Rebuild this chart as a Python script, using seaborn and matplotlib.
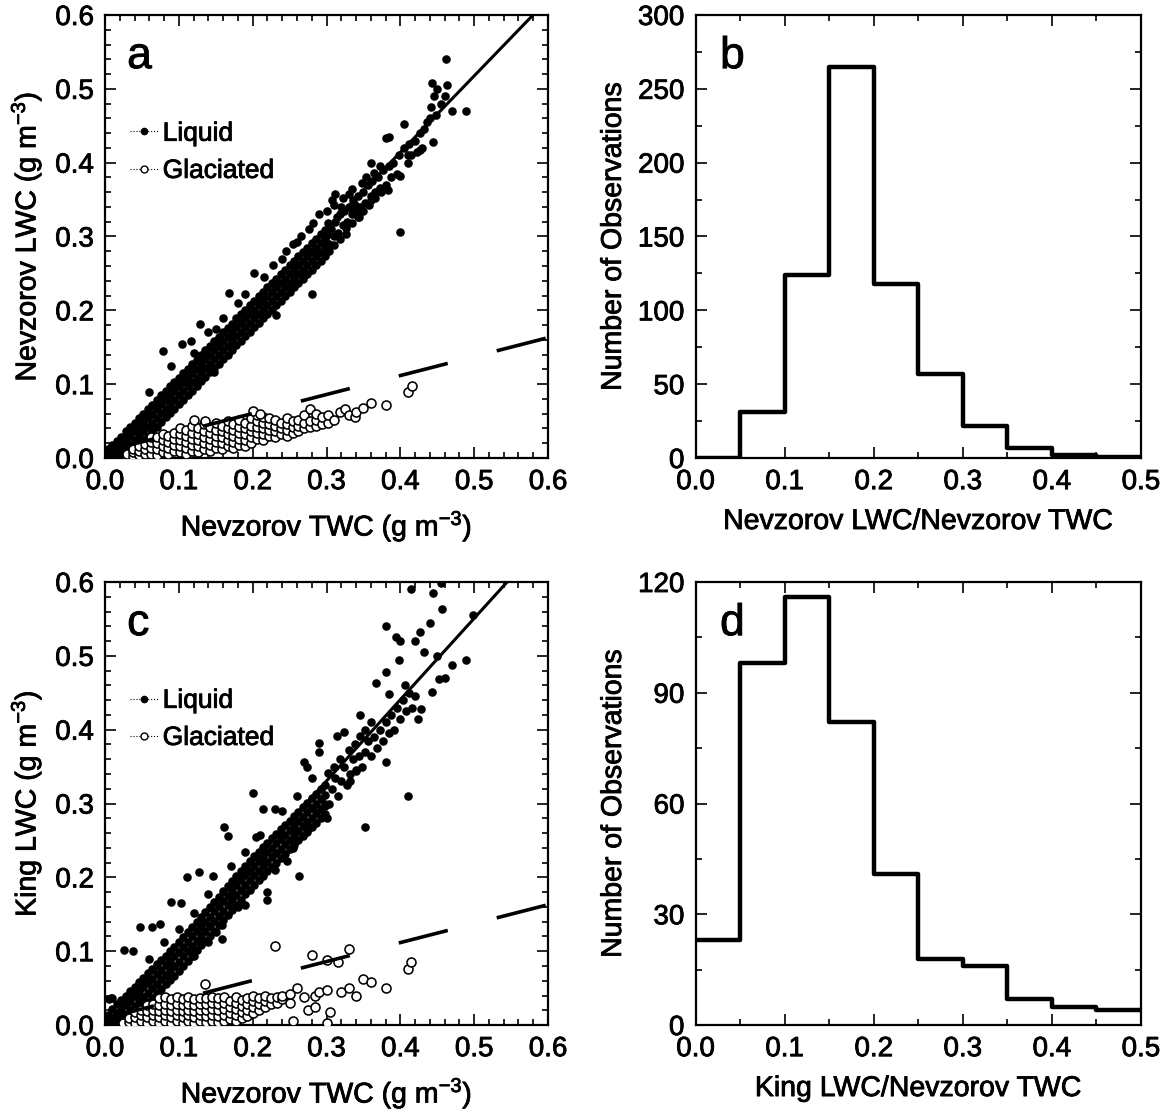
import matplotlib
matplotlib.use("Agg")
import matplotlib.pyplot as plt
import matplotlib.patheffects as pe
from matplotlib.text import Text
from matplotlib.lines import Line2D
from matplotlib.ticker import MultipleLocator
import seaborn as sns
import pandas as pd

# ---- data ----
# dense liquid band: TWC positions and four LWC rows across the band
band_twc = [0.004, 0.010, 0.016, 0.022, 0.028, 0.034, 0.040, 0.046, 0.052, 0.058,
            0.064, 0.070, 0.076, 0.082, 0.088, 0.094, 0.100, 0.106, 0.112, 0.118,
            0.124, 0.130, 0.136, 0.142, 0.148, 0.154, 0.160, 0.166, 0.172, 0.178,
            0.184, 0.190, 0.196, 0.202, 0.208, 0.214, 0.220, 0.226, 0.232, 0.238,
            0.244, 0.250, 0.256, 0.262, 0.268, 0.274, 0.280, 0.286, 0.292, 0.298]

# panel a (Nevzorov LWC)
band_a_low = [0.000, 0.000, 0.002, 0.004, 0.006, 0.008, 0.012, 0.018, 0.024, 0.030,
              0.036, 0.042, 0.049, 0.055, 0.061, 0.067, 0.073, 0.079, 0.085, 0.091,
              0.097, 0.104, 0.110, 0.116, 0.122, 0.128, 0.134, 0.140, 0.146, 0.153,
              0.159, 0.165, 0.171, 0.177, 0.183, 0.189, 0.195, 0.201, 0.207, 0.213,
              0.219, 0.225, 0.231, 0.237, 0.243, 0.249, 0.255, 0.261, 0.267, 0.273]
band_a_mid1 = [0.003, 0.004, 0.006, 0.008, 0.012, 0.018, 0.024, 0.030, 0.036, 0.042,
               0.048, 0.054, 0.061, 0.067, 0.073, 0.079, 0.085, 0.091, 0.097, 0.103,
               0.109, 0.116, 0.122, 0.128, 0.134, 0.140, 0.146, 0.152, 0.158, 0.165,
               0.171, 0.177, 0.183, 0.189, 0.195, 0.201, 0.207, 0.213, 0.219, 0.225,
               0.231, 0.237, 0.243, 0.249, 0.255, 0.261, 0.267, 0.273, 0.279, 0.285]
band_a_mid2 = [0.006, 0.008, 0.011, 0.017, 0.024, 0.030, 0.036, 0.042, 0.048, 0.054,
               0.060, 0.066, 0.073, 0.079, 0.085, 0.091, 0.097, 0.103, 0.109, 0.115,
               0.121, 0.128, 0.134, 0.140, 0.146, 0.152, 0.158, 0.164, 0.170, 0.177,
               0.183, 0.189, 0.195, 0.201, 0.207, 0.213, 0.219, 0.225, 0.231, 0.237,
               0.243, 0.249, 0.255, 0.261, 0.267, 0.273, 0.279, 0.285, 0.291, 0.297]
band_a_high = [0.012, 0.017, 0.023, 0.029, 0.036, 0.042, 0.048, 0.054, 0.060, 0.066,
               0.072, 0.078, 0.085, 0.091, 0.097, 0.103, 0.109, 0.115, 0.121, 0.127,
               0.133, 0.140, 0.146, 0.152, 0.158, 0.164, 0.170, 0.176, 0.182, 0.189,
               0.195, 0.201, 0.207, 0.213, 0.219, 0.225, 0.231, 0.237, 0.243, 0.249,
               0.255, 0.261, 0.267, 0.273, 0.279, 0.285, 0.291, 0.297, 0.303, 0.309]

# panel a: remaining liquid points (upper part and outliers) as (TWC, LWC)
liquid_a = [
    (0.304, 0.290), (0.306, 0.310), (0.310, 0.300), (0.312, 0.320), (0.316, 0.305), (0.318, 0.330),
    (0.322, 0.315), (0.324, 0.335), (0.328, 0.320), (0.330, 0.340), (0.334, 0.330), (0.336, 0.350),
    (0.340, 0.335), (0.342, 0.355), (0.346, 0.340), (0.350, 0.360), (0.352, 0.345), (0.356, 0.370),
    (0.360, 0.355), (0.362, 0.375), (0.366, 0.360), (0.370, 0.380), (0.372, 0.365), (0.376, 0.390),
    (0.380, 0.370), (0.384, 0.395), (0.388, 0.380), (0.390, 0.400), (0.395, 0.385), (0.398, 0.410),
    (0.405, 0.420), (0.410, 0.400), (0.412, 0.425), (0.415, 0.410), (0.420, 0.430), (0.422, 0.415),
    (0.426, 0.440), (0.430, 0.420), (0.432, 0.445), (0.436, 0.455), (0.440, 0.460), (0.442, 0.475),
    (0.445, 0.490), (0.448, 0.465), (0.450, 0.500), (0.455, 0.480), (0.460, 0.490), (0.463, 0.505),
    (0.462, 0.541), (0.443, 0.508), (0.470, 0.470), (0.489, 0.470), (0.444, 0.428), (0.427, 0.417),
    (0.399, 0.306), (0.280, 0.222), (0.231, 0.194), (0.079, 0.145), (0.104, 0.154), (0.117, 0.159),
    (0.129, 0.181), (0.168, 0.223), (0.202, 0.251), (0.147, 0.116), (0.307, 0.350), (0.312, 0.358),
    (0.335, 0.364), (0.320, 0.340), (0.360, 0.400), (0.380, 0.433), (0.385, 0.435), (0.405, 0.452),
    (0.360, 0.350), (0.383, 0.363), (0.400, 0.382), (0.410, 0.410), (0.265, 0.300), (0.255, 0.290),
    (0.240, 0.270), (0.290, 0.330), (0.300, 0.335), (0.215, 0.245), (0.180, 0.210), (0.160, 0.190),
    (0.302, 0.318), (0.314, 0.326), (0.326, 0.312), (0.338, 0.342), (0.344, 0.326), (0.300, 0.302),
    (0.060, 0.090), (0.090, 0.125), (0.140, 0.170), (0.190, 0.222), (0.250, 0.232), (0.270, 0.250),
    (0.304, 0.280), (0.310, 0.288), (0.318, 0.296), (0.326, 0.304), (0.334, 0.318), (0.342, 0.326),
    (0.350, 0.334), (0.358, 0.342), (0.366, 0.352), (0.374, 0.360), (0.348, 0.372), (0.354, 0.380),
    (0.364, 0.386), (0.372, 0.396), (0.310, 0.342), (0.322, 0.352), (0.330, 0.358), (0.276, 0.310),
    (0.282, 0.318), (0.260, 0.292), (0.228, 0.262), (0.245, 0.280), (0.120, 0.142), (0.150, 0.175),
]

glaciated_a = [
    (0.030, 0.002), (0.030, 0.006), (0.038, 0.003), (0.038, 0.008), (0.038, 0.012),
    (0.046, 0.004), (0.046, 0.010), (0.046, 0.016), (0.054, 0.005), (0.054, 0.012), (0.054, 0.019),
    (0.062, 0.006), (0.062, 0.014), (0.062, 0.022), (0.062, 0.028), (0.070, 0.004), (0.070, 0.012),
    (0.070, 0.020), (0.070, 0.028), (0.078, 0.008), (0.078, 0.016), (0.078, 0.024), (0.078, 0.032),
    (0.086, 0.006), (0.086, 0.014), (0.086, 0.022), (0.086, 0.030), (0.094, 0.010), (0.094, 0.018),
    (0.094, 0.026), (0.094, 0.034), (0.102, 0.008), (0.102, 0.016), (0.102, 0.024), (0.102, 0.032),
    (0.102, 0.040), (0.110, 0.006), (0.110, 0.014), (0.110, 0.022), (0.110, 0.030), (0.110, 0.038),
    (0.118, 0.010), (0.118, 0.018), (0.118, 0.026), (0.118, 0.034), (0.118, 0.044), (0.126, 0.008),
    (0.126, 0.016), (0.126, 0.024), (0.126, 0.032), (0.126, 0.040), (0.134, 0.012), (0.134, 0.020),
    (0.134, 0.028), (0.134, 0.036), (0.134, 0.046), (0.142, 0.010), (0.142, 0.018), (0.142, 0.026),
    (0.142, 0.034), (0.142, 0.042), (0.150, 0.014), (0.150, 0.022), (0.150, 0.030), (0.150, 0.038),
    (0.150, 0.048), (0.158, 0.012), (0.158, 0.020), (0.158, 0.028), (0.158, 0.036), (0.158, 0.044),
    (0.166, 0.016), (0.166, 0.024), (0.166, 0.032), (0.166, 0.040), (0.166, 0.050), (0.174, 0.014),
    (0.174, 0.022), (0.174, 0.030), (0.174, 0.038), (0.174, 0.046), (0.182, 0.018), (0.182, 0.026),
    (0.182, 0.034), (0.182, 0.042), (0.182, 0.052), (0.190, 0.016), (0.190, 0.024), (0.190, 0.032),
    (0.190, 0.040), (0.190, 0.048), (0.198, 0.020), (0.198, 0.028), (0.198, 0.036), (0.198, 0.044),
    (0.198, 0.054), (0.206, 0.026), (0.206, 0.034), (0.206, 0.042), (0.206, 0.050), (0.206, 0.058),
    (0.214, 0.024), (0.214, 0.032), (0.214, 0.040), (0.214, 0.048), (0.214, 0.056), (0.222, 0.030),
    (0.222, 0.038), (0.222, 0.046), (0.222, 0.054), (0.230, 0.028), (0.230, 0.036), (0.230, 0.044),
    (0.230, 0.052), (0.238, 0.032), (0.238, 0.040), (0.238, 0.048), (0.246, 0.030), (0.246, 0.038),
    (0.246, 0.046), (0.246, 0.054), (0.254, 0.034), (0.254, 0.042), (0.254, 0.050), (0.262, 0.036),
    (0.262, 0.044), (0.262, 0.052), (0.270, 0.040), (0.270, 0.048), (0.270, 0.058), (0.278, 0.042),
    (0.278, 0.050), (0.278, 0.066), (0.286, 0.044), (0.286, 0.052), (0.286, 0.060), (0.294, 0.046),
    (0.294, 0.056), (0.302, 0.048), (0.302, 0.058), (0.310, 0.052), (0.318, 0.062), (0.325, 0.066),
    (0.330, 0.058), (0.338, 0.055), (0.340, 0.062), (0.350, 0.068), (0.360, 0.074), (0.380, 0.072),
    (0.410, 0.089), (0.416, 0.097), (0.120, 0.052), (0.135, 0.050), (0.200, 0.064), (0.210, 0.060),
]

# panel c (King LWC)
band_c_low = [0.000, 0.000, 0.002, 0.004, 0.006, 0.008, 0.013, 0.019, 0.025, 0.031,
              0.037, 0.043, 0.049, 0.055, 0.061, 0.067, 0.073, 0.080, 0.087, 0.094,
              0.101, 0.108, 0.114, 0.121, 0.128, 0.135, 0.142, 0.149, 0.156, 0.163,
              0.170, 0.177, 0.183, 0.190, 0.196, 0.202, 0.208, 0.214, 0.220, 0.226,
              0.232, 0.238, 0.244, 0.250, 0.256, 0.262, 0.268, 0.274, 0.280, 0.286]
band_c_mid1 = [0.002, 0.004, 0.006, 0.010, 0.014, 0.020, 0.026, 0.032, 0.038, 0.044,
               0.050, 0.056, 0.062, 0.068, 0.074, 0.080, 0.086, 0.093, 0.100, 0.107,
               0.114, 0.121, 0.127, 0.134, 0.141, 0.148, 0.155, 0.162, 0.169, 0.176,
               0.183, 0.190, 0.196, 0.203, 0.209, 0.215, 0.221, 0.227, 0.233, 0.239,
               0.245, 0.251, 0.257, 0.263, 0.269, 0.275, 0.281, 0.287, 0.293, 0.299]
band_c_mid2 = [0.005, 0.009, 0.015, 0.021, 0.027, 0.033, 0.039, 0.045, 0.051, 0.057,
               0.063, 0.069, 0.075, 0.081, 0.087, 0.093, 0.099, 0.106, 0.113, 0.120,
               0.127, 0.134, 0.140, 0.147, 0.154, 0.161, 0.168, 0.175, 0.182, 0.189,
               0.196, 0.203, 0.209, 0.216, 0.222, 0.228, 0.234, 0.240, 0.246, 0.252,
               0.258, 0.264, 0.270, 0.276, 0.282, 0.288, 0.294, 0.300, 0.306, 0.312]
band_c_high = [0.014, 0.022, 0.028, 0.034, 0.040, 0.046, 0.052, 0.058, 0.064, 0.070,
               0.076, 0.082, 0.088, 0.094, 0.100, 0.106, 0.112, 0.119, 0.126, 0.133,
               0.140, 0.147, 0.153, 0.160, 0.167, 0.174, 0.181, 0.188, 0.195, 0.202,
               0.209, 0.216, 0.222, 0.229, 0.235, 0.241, 0.247, 0.253, 0.259, 0.265,
               0.271, 0.277, 0.283, 0.289, 0.295, 0.301, 0.307, 0.313, 0.319, 0.325]

liquid_c = [
    (0.006, 0.035), (0.010, 0.036), (0.304, 0.300), (0.308, 0.320), (0.312, 0.335), (0.316, 0.310),
    (0.320, 0.330), (0.324, 0.350), (0.328, 0.325), (0.332, 0.340), (0.336, 0.360), (0.340, 0.345),
    (0.344, 0.365), (0.348, 0.350), (0.352, 0.370), (0.356, 0.385), (0.360, 0.365), (0.364, 0.390),
    (0.368, 0.375), (0.372, 0.400), (0.376, 0.385), (0.380, 0.410), (0.384, 0.395), (0.388, 0.420),
    (0.392, 0.400), (0.396, 0.430), (0.400, 0.415), (0.404, 0.440), (0.408, 0.425), (0.412, 0.450),
    (0.416, 0.430), (0.420, 0.445), (0.424, 0.415), (0.414, 0.591), (0.444, 0.585), (0.455, 0.598),
    (0.456, 0.563), (0.498, 0.555), (0.380, 0.540), (0.394, 0.526), (0.427, 0.532), (0.440, 0.545),
    (0.489, 0.495), (0.470, 0.487), (0.452, 0.468), (0.443, 0.451), (0.428, 0.428), (0.410, 0.310),
    (0.352, 0.268), (0.263, 0.202), (0.201, 0.314), (0.161, 0.268), (0.167, 0.256), (0.204, 0.254),
    (0.219, 0.180), (0.219, 0.169), (0.189, 0.163), (0.047, 0.133), (0.064, 0.133), (0.075, 0.137),
    (0.090, 0.167), (0.103, 0.165), (0.111, 0.200), (0.128, 0.207), (0.146, 0.202), (0.026, 0.102),
    (0.038, 0.100), (0.008, 0.036), (0.086, 0.067), (0.118, 0.100), (0.158, 0.116), (0.150, 0.126),
    (0.158, 0.135), (0.290, 0.382), (0.290, 0.370), (0.314, 0.392), (0.324, 0.397), (0.270, 0.356),
    (0.274, 0.350), (0.367, 0.463), (0.380, 0.478), (0.384, 0.449), (0.380, 0.356), (0.360, 0.410),
    (0.345, 0.420), (0.340, 0.344), (0.332, 0.330), (0.298, 0.297), (0.300, 0.280), (0.274, 0.264),
    (0.254, 0.240), (0.239, 0.256), (0.214, 0.293), (0.230, 0.293), (0.400, 0.520), (0.420, 0.520),
    (0.432, 0.505), (0.450, 0.500), (0.460, 0.470), (0.406, 0.460), (0.398, 0.495), (0.302, 0.342),
    (0.310, 0.350), (0.318, 0.360), (0.330, 0.372), (0.338, 0.380), (0.346, 0.392), (0.352, 0.400),
    (0.060, 0.090), (0.080, 0.112), (0.100, 0.130), (0.120, 0.152), (0.140, 0.178), (0.170, 0.215),
    (0.190, 0.235), (0.210, 0.258), (0.240, 0.290), (0.260, 0.310), (0.280, 0.335), (0.246, 0.222),
    (0.230, 0.210), (0.180, 0.160), (0.140, 0.112), (0.120, 0.094),
]

glaciated_c = [
    (0.025, 0.003), (0.033, 0.004), (0.033, 0.010), (0.041, 0.003), (0.041, 0.011), (0.041, 0.018),
    (0.049, 0.005), (0.049, 0.013), (0.049, 0.021), (0.057, 0.003), (0.057, 0.011), (0.057, 0.019),
    (0.057, 0.027), (0.065, 0.005), (0.065, 0.013), (0.065, 0.021), (0.065, 0.029), (0.073, 0.003),
    (0.073, 0.011), (0.073, 0.019), (0.073, 0.027), (0.073, 0.036), (0.081, 0.005), (0.081, 0.013),
    (0.081, 0.021), (0.081, 0.029), (0.081, 0.038), (0.089, 0.003), (0.089, 0.011), (0.089, 0.019),
    (0.089, 0.027), (0.089, 0.035), (0.097, 0.005), (0.097, 0.013), (0.097, 0.021), (0.097, 0.029),
    (0.097, 0.038), (0.105, 0.003), (0.105, 0.011), (0.105, 0.019), (0.105, 0.027), (0.105, 0.035),
    (0.113, 0.005), (0.113, 0.013), (0.113, 0.021), (0.113, 0.029), (0.113, 0.038), (0.121, 0.003),
    (0.121, 0.011), (0.121, 0.019), (0.121, 0.027), (0.121, 0.035), (0.129, 0.005), (0.129, 0.013),
    (0.129, 0.021), (0.129, 0.029), (0.129, 0.037), (0.137, 0.004), (0.137, 0.012), (0.137, 0.020),
    (0.137, 0.028), (0.137, 0.036), (0.145, 0.006), (0.145, 0.014), (0.145, 0.022), (0.145, 0.030),
    (0.145, 0.038), (0.153, 0.004), (0.153, 0.012), (0.153, 0.020), (0.153, 0.028), (0.153, 0.036),
    (0.161, 0.006), (0.161, 0.014), (0.161, 0.022), (0.161, 0.030), (0.161, 0.038), (0.169, 0.008),
    (0.169, 0.016), (0.169, 0.024), (0.169, 0.032), (0.177, 0.006), (0.177, 0.014), (0.177, 0.022),
    (0.177, 0.030), (0.177, 0.038), (0.185, 0.010), (0.185, 0.018), (0.185, 0.026), (0.185, 0.034),
    (0.193, 0.012), (0.193, 0.020), (0.193, 0.028), (0.193, 0.036), (0.201, 0.016), (0.201, 0.024),
    (0.201, 0.032), (0.201, 0.040), (0.209, 0.020), (0.209, 0.028), (0.209, 0.036), (0.217, 0.024),
    (0.217, 0.032), (0.217, 0.040), (0.225, 0.028), (0.225, 0.036), (0.233, 0.030), (0.233, 0.038),
    (0.135, 0.055), (0.230, 0.107), (0.240, 0.035), (0.240, 0.040), (0.250, 0.030), (0.250, 0.042),
    (0.260, 0.050), (0.255, 0.005), (0.270, 0.038), (0.275, 0.020), (0.280, 0.095), (0.285, 0.040),
    (0.285, 0.025), (0.290, 0.045), (0.300, 0.088), (0.300, 0.048), (0.300, 0.003), (0.305, 0.018),
    (0.315, 0.086), (0.320, 0.045), (0.330, 0.103), (0.330, 0.050), (0.340, 0.040), (0.350, 0.063),
    (0.360, 0.058), (0.380, 0.050), (0.410, 0.076), (0.415, 0.085),
]

# fit lines (endpoints at TWC = 0 and 0.6)
fit_twc = [0.0, 0.6]
liquid_fit_a = [0.0, 0.621]
liquid_fit_c = [0.0, 0.661]
glaciated_fit = [0.009, 0.163]

# histograms of LWC/TWC for glaciated points
ratio_edges = [0.0, 0.05, 0.10, 0.15, 0.20, 0.25, 0.30, 0.35, 0.40, 0.45, 0.50]
counts_b = [0, 31, 124, 265, 118, 57, 22, 7, 2, 1]
counts_d = [23, 98, 116, 82, 41, 18, 16, 7, 5, 4]

# ---- styling ----
sns.set_style("ticks")
plt.rcParams["font.family"] = ["Liberation Sans", "DejaVu Sans"]
plt.rcParams["mathtext.fontset"] = "custom"
plt.rcParams["mathtext.rm"] = "Liberation Sans"
plt.rcParams["mathtext.default"] = "regular"
plt.rcParams["axes.linewidth"] = 1.6
for key in ["text.color", "axes.labelcolor", "xtick.color", "ytick.color", "axes.edgecolor"]:
    plt.rcParams[key] = "black"

TICK_FS = 20
LABEL_FS = 20.5
LEGEND_FS = 19


def style_axes(ax, xmaj, xmin, ymaj, ymin):
    ax.xaxis.set_major_locator(MultipleLocator(xmaj))
    ax.xaxis.set_minor_locator(MultipleLocator(xmin))
    ax.yaxis.set_major_locator(MultipleLocator(ymaj))
    ax.yaxis.set_minor_locator(MultipleLocator(ymin))
    ax.tick_params(which="both", direction="in", top=True, right=True,
                   labelsize=TICK_FS, width=1.2, pad=8)
    ax.tick_params(which="major", length=8)
    ax.tick_params(which="minor", length=4)
    for sp in ax.spines.values():
        sp.set_visible(True)


def band_frame(lows, mid1, mid2, highs):
    parts = [pd.DataFrame({"twc": band_twc, "lwc": row}) for row in (lows, mid1, mid2, highs)]
    return pd.concat(parts, ignore_index=True)


def scatter_panel(ax, band, liquid, glaciated, liquid_fit, ylabel, letter):
    liq = pd.concat([band, pd.DataFrame(liquid, columns=["twc", "lwc"])], ignore_index=True)
    gla = pd.DataFrame(glaciated, columns=["twc", "lwc"])
    sns.scatterplot(data=liq, x="twc", y="lwc", ax=ax, color="black",
                    s=38, linewidth=0, marker="o", legend=False, zorder=3)
    sns.scatterplot(data=gla, x="twc", y="lwc", ax=ax, facecolor="white",
                    edgecolor="black", s=42, linewidth=1.15, marker="o",
                    legend=False, zorder=3)
    sns.lineplot(x=fit_twc, y=liquid_fit, ax=ax, color="black", linewidth=2.2,
                 zorder=4)
    sns.lineplot(x=fit_twc, y=glaciated_fit, ax=ax, color="black",
                 linewidth=2.6, linestyle=(0, (14, 14)), zorder=4)
    ax.set_xlim(0, 0.6)
    ax.set_ylim(0, 0.6)
    style_axes(ax, 0.1, 0.02, 0.1, 0.02)
    ax.set_xlabel("Nevzorov TWC (g m$^{-3}$)", fontsize=LABEL_FS, labelpad=10)
    ax.set_ylabel(ylabel, fontsize=LABEL_FS, labelpad=8)
    ax.text(0.05, 0.88, letter, transform=ax.transAxes, fontsize=32)
    handles = [
        Line2D([], [], color="black", linestyle=":", linewidth=0.8,
               marker="o", markersize=4.5, markerfacecolor="black"),
        Line2D([], [], color="black", linestyle=":", linewidth=0.8,
               marker="o", markersize=5, markerfacecolor="white",
               markeredgewidth=1.0),
    ]
    ax.legend(handles, ["Liquid", "Glaciated"], loc="center left",
              bbox_to_anchor=(0.026, 0.69), frameon=False, fontsize=LEGEND_FS,
              handlelength=1.1, handletextpad=0.15, labelspacing=0.5,
              borderpad=0)


def hist_panel(ax, counts, xlabel, ymax, ymaj, ymin, letter):
    mids = [(a + b) / 2 for a, b in zip(ratio_edges[:-1], ratio_edges[1:])]
    sns.histplot(x=mids, weights=counts, bins=ratio_edges, element="step",
                 fill=False, color="black", linewidth=3.2, ax=ax)
    ax.set_xlim(0, 0.5)
    ax.set_ylim(0, ymax)
    style_axes(ax, 0.1, 0.05, ymaj, ymin)
    ax.set_xlabel(xlabel, fontsize=LABEL_FS, labelpad=10)
    ax.set_ylabel("Number of Observations", fontsize=LABEL_FS, labelpad=8)
    ax.text(0.055, 0.88, letter, transform=ax.transAxes, fontsize=32)


fig = plt.figure(figsize=(11.69, 11.09), dpi=100)
ax_a = fig.add_axes([0.0898, 0.587, 0.379, 0.3995])
ax_b = fig.add_axes([0.595, 0.587, 0.381, 0.3995])
ax_c = fig.add_axes([0.0898, 0.0757, 0.379, 0.3995])
ax_d = fig.add_axes([0.595, 0.0757, 0.381, 0.3995])

scatter_panel(ax_a, band_frame(band_a_low, band_a_mid1, band_a_mid2, band_a_high),
              liquid_a, glaciated_a, liquid_fit_a, "Nevzorov LWC (g m$^{-3}$)", "a")
scatter_panel(ax_c, band_frame(band_c_low, band_c_mid1, band_c_mid2, band_c_high),
              liquid_c, glaciated_c, liquid_fit_c, "King LWC (g m$^{-3}$)", "c")
hist_panel(ax_b, counts_b, "Nevzorov LWC/Nevzorov TWC", 300, 50, 25, "b")
hist_panel(ax_d, counts_d, "King LWC/Nevzorov TWC", 120, 30, 15, "d")

# the printed figure has heavy type; thicken the glyphs a little
fig.canvas.draw()
for t in fig.findobj(Text):
    t.set_path_effects([pe.withStroke(linewidth=0.6, foreground="black")])

fig.savefig("out.png", dpi=100)
